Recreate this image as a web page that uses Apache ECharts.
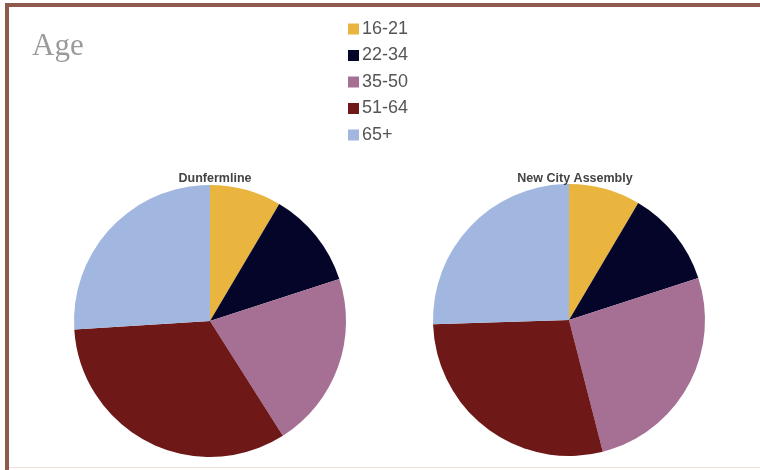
<!DOCTYPE html>
<html>
<head>
<meta charset="utf-8">
<script src="https://cdn.jsdelivr.net/npm/echarts@6/dist/echarts.min.js"></script>
<style>
html,body{margin:0;padding:0;background:#fff;}
#chart{width:760px;height:470px;}
</style>
</head>
<body>
<div id="chart"></div>
<script>
const categories = ['16-21', '22-34', '35-50', '51-64', '65+'];
const dunfermline = [8.5, 11.5, 21, 33, 26];
const newCityAssembly = [8.5, 11.5, 26, 28.5, 25.5];
const pieTitles = ['Dunfermline', 'New City Assembly'];
const colors = ['#E9B53F', '#05052A', '#A66F94', '#6E1818', '#A2B7DF'];

const chart = echarts.init(document.getElementById('chart'));
function toData(vals) {
  return categories.map((c, i) => ({ name: c, value: vals[i] }));
}
chart.setOption({
  animation: false,
  color: colors,
  title: [
    { text: 'Age', left: 27, top: 26, textStyle: { fontFamily: 'Liberation Serif', fontWeight: 'normal', fontSize: 31, color: '#9a9a9a' } },
    { text: pieTitles[0], left: 210, top: 167, textAlign: 'center', textStyle: { fontFamily: 'Liberation Sans', fontWeight: 'bold', fontSize: 12.5, color: '#444' } },
    { text: pieTitles[1], left: 570, top: 167, textAlign: 'center', textStyle: { fontFamily: 'Liberation Sans', fontWeight: 'bold', fontSize: 12.5, color: '#444' } }
  ],
  legend: {
    orient: 'vertical',
    left: 343,
    top: 15,
    itemWidth: 11,
    itemHeight: 11,
    itemGap: 8.5,
    icon: 'rect',
    data: categories,
    textStyle: { fontFamily: 'Liberation Sans', fontSize: 18, color: '#555', padding: [0, 0, 0, -2] }
  },
  graphic: [
    { type: 'rect', shape: { x: 5, y: 3, width: 755, height: 4 }, style: { fill: '#8E5A4C' } },
    { type: 'rect', shape: { x: 5, y: 3, width: 4, height: 467 }, style: { fill: '#8E5A4C' } },
    { type: 'rect', shape: { x: 9, y: 467, width: 751, height: 1 }, style: { fill: '#f6ddd6' } }
  ],
  series: [
    { type: 'pie', center: [210, 321], radius: 136, startAngle: 90, clockwise: true, label: { show: false }, labelLine: { show: false }, emphasis: { disabled: true }, itemStyle: { borderWidth: 0 }, data: toData(dunfermline) },
    { type: 'pie', center: [569, 320], radius: 136, startAngle: 90, clockwise: true, label: { show: false }, labelLine: { show: false }, emphasis: { disabled: true }, itemStyle: { borderWidth: 0 }, data: toData(newCityAssembly) }
  ]
});
</script>
</body>
</html>
